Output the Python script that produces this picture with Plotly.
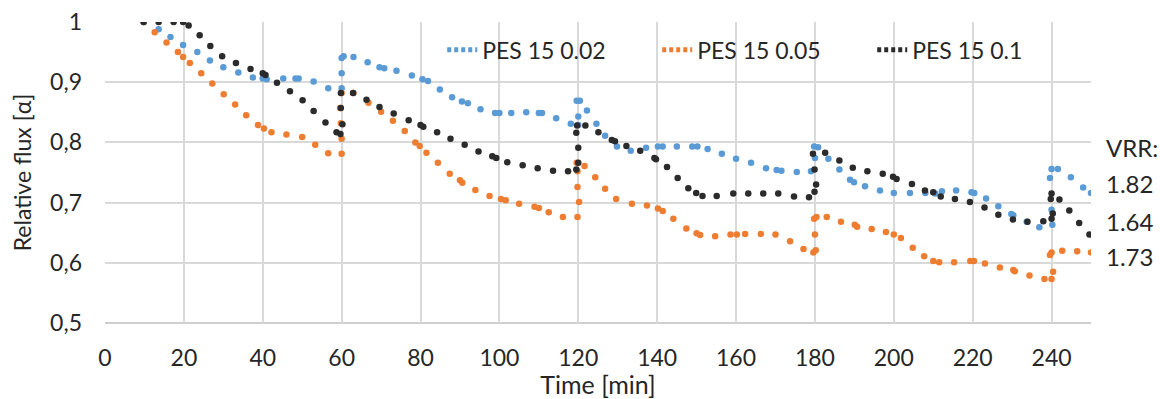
import plotly.graph_objects as go

# ---- data (time in min, relative flux) ----
t_002 = [9.8, 13.6, 16.6, 19.8, 23.4, 26.6, 30.0, 33.8, 37.5, 40.0, 41.0, 45.2, 48.3, 49.1, 52.9, 56.6,
         60.0, 60.0, 60.0, 60.5, 63.0, 66.6, 69.6, 70.8, 73.9, 77.8, 80.5, 81.9, 84.9, 88.0, 90.5, 92.0,
         95.2, 98.9, 100.0, 103.0, 106.8, 110.0, 110.8, 114.4, 118.1, 120.0, 120.0, 119.6, 120.4, 122.2,
         124.6, 126.8, 129.8, 133.3, 137.2, 140.2, 141.4, 145.0, 148.9, 150.2, 152.8, 156.4, 160.0, 163.8,
         167.6, 170.3, 171.5, 175.4, 179.0, 180.0, 179.8, 180.8, 183.4, 186.2, 188.9, 189.9, 192.7, 196.5,
         200.0, 204.1, 208.0, 210.5, 212.2, 215.8, 219.7, 220.4, 223.4, 226.5, 229.8, 230.3, 233.7, 236.9,
         240.2, 240.0, 239.6, 240.0, 241.6, 244.9, 248.0, 250.0]
f_002 = [1.0, 0.988, 0.975, 0.962, 0.950, 0.936, 0.925, 0.916, 0.908, 0.906, 0.905, 0.906, 0.906, 0.906, 0.901, 0.890,
         0.890, 0.915, 0.940, 0.943, 0.942, 0.933, 0.925, 0.923, 0.919, 0.911, 0.905, 0.902, 0.888, 0.875, 0.868, 0.865,
         0.855, 0.849, 0.849, 0.849, 0.850, 0.849, 0.849, 0.840, 0.831, 0.829, 0.843, 0.869, 0.869, 0.853,
         0.831, 0.811, 0.793, 0.786, 0.791, 0.793, 0.793, 0.793, 0.793, 0.793, 0.789, 0.781, 0.773, 0.766,
         0.757, 0.754, 0.753, 0.751, 0.752, 0.774, 0.793, 0.792, 0.773, 0.755, 0.738, 0.734, 0.727, 0.720,
         0.716, 0.716, 0.716, 0.715, 0.719, 0.720, 0.717, 0.716, 0.707, 0.694, 0.681, 0.679, 0.668, 0.659,
         0.663, 0.688, 0.741, 0.756, 0.756, 0.742, 0.725, 0.716]

t_005 = [9.8, 12.6, 15.6, 18.5, 19.8, 21.5, 24.4, 27.2, 30.1, 33.0, 35.8, 38.8, 40.3, 42.2, 46.0, 50.0, 53.3, 56.6,
         60.0, 60.0, 59.8, 59.6, 60.0, 63.0, 66.8, 70.0, 73.0, 76.0, 78.7, 79.8, 81.5, 84.4, 87.4, 90.0, 90.6,
         93.9, 97.5, 100.4, 101.6, 105.0, 108.9, 110.0, 112.5, 116.1, 119.8, 120.2, 119.8, 119.8, 119.6, 121.6,
         124.3, 126.8, 129.6, 133.6, 137.4, 140.2, 141.4, 144.1, 147.4, 150.0, 150.9, 154.7, 158.6, 160.2,
         162.3, 166.3, 170.0, 173.7, 177.1, 179.6, 180.2, 180.0, 179.8, 180.4, 183.0, 186.6, 190.1, 190.7,
         194.4, 198.0, 200.0, 201.8, 204.8, 207.7, 210.0, 211.5, 215.3, 219.4, 220.3, 223.1, 226.9, 230.3,
         230.7, 234.4, 238.2, 240.0, 240.4, 239.6, 240.0, 242.7, 246.5, 250.0]
f_005 = [1.0, 0.983, 0.966, 0.950, 0.942, 0.932, 0.915, 0.898, 0.880, 0.863, 0.845, 0.829, 0.823, 0.817, 0.813, 0.809, 0.796, 0.782,
         0.781, 0.806, 0.832, 0.857, 0.882, 0.882, 0.866, 0.851, 0.836, 0.819, 0.800, 0.794, 0.783, 0.766, 0.748, 0.737, 0.733,
         0.721, 0.711, 0.706, 0.704, 0.698, 0.693, 0.691, 0.684, 0.676, 0.676, 0.701, 0.726, 0.752, 0.766, 0.761,
         0.742, 0.723, 0.706, 0.698, 0.695, 0.690, 0.686, 0.673, 0.657, 0.649, 0.646, 0.644, 0.647, 0.647,
         0.648, 0.648, 0.647, 0.636, 0.623, 0.617, 0.621, 0.647, 0.673, 0.676, 0.676, 0.668, 0.663, 0.660,
         0.656, 0.651, 0.647, 0.641, 0.625, 0.611, 0.603, 0.601, 0.601, 0.603, 0.603, 0.599, 0.592, 0.588,
         0.586, 0.579, 0.573, 0.573, 0.585, 0.613, 0.617, 0.620, 0.619, 0.617]

t_01 = [9.8, 13.6, 17.4, 19.8, 21.2, 24.0, 26.7, 29.7, 33.2, 36.9, 40.0, 40.7, 43.6, 46.9, 50.1, 52.9, 55.9, 58.7,
        59.7, 60.2, 59.8, 59.8, 62.9, 66.3, 69.6, 73.2, 77.0, 80.0, 80.7, 84.2, 87.6, 91.2, 94.7, 98.2, 99.2,
        102.0, 105.9, 109.7, 113.6, 117.4, 119.5, 120.0, 120.0, 119.5, 119.7, 121.8, 125.1, 128.5, 129.3,
        132.2, 135.7, 139.3, 139.7, 142.5, 145.2, 147.9, 149.9, 151.5, 155.1, 159.3, 163.1, 166.9, 170.7,
        174.7, 178.5, 179.9, 180.3, 179.9, 179.5, 182.6, 186.2, 189.6, 193.3, 197.2, 199.8, 200.7, 204.6,
        207.9, 210.0, 211.9, 215.5, 219.3, 223.0, 226.5, 230.2, 233.9, 237.9, 240.0, 240.3, 239.8, 240.0,
        242.0, 244.5, 247.0, 249.6]
f_01 = [1.0, 1.0, 1.0, 1.0, 0.994, 0.978, 0.960, 0.943, 0.932, 0.922, 0.915, 0.912, 0.899, 0.885, 0.870, 0.852, 0.833, 0.817,
        0.814, 0.830, 0.857, 0.882, 0.882, 0.871, 0.859, 0.848, 0.837, 0.829, 0.826, 0.817, 0.806, 0.796, 0.785, 0.777, 0.774,
        0.767, 0.762, 0.757, 0.753, 0.752, 0.755, 0.766, 0.791, 0.816, 0.828, 0.828, 0.817, 0.804, 0.802,
        0.794, 0.786, 0.774, 0.772, 0.759, 0.741, 0.724, 0.716, 0.711, 0.711, 0.715, 0.715, 0.715, 0.715,
        0.710, 0.709, 0.718, 0.730, 0.755, 0.781, 0.783, 0.770, 0.758, 0.752, 0.748, 0.743, 0.739, 0.731,
        0.720, 0.717, 0.710, 0.706, 0.701, 0.692, 0.680, 0.672, 0.668, 0.669, 0.673, 0.682, 0.706, 0.715,
        0.705, 0.687, 0.666, 0.647]

series_names = ["PES 15 0.02", "PES 15 0.05", "PES 15 0.1"]
series_colors = ["#5B9BD5", "#ED7D31", "#2B2B2B"]
series_t = [t_002, t_005, t_01]
series_f = [f_002, f_005, f_01]

x_ticks = [0, 20, 40, 60, 80, 100, 120, 140, 160, 180, 200, 220, 240]
y_ticks = [0.5, 0.6, 0.7, 0.8, 0.9, 1.0]
y_ticktext = ["0,5", "0,6", "0,7", "0,8", "0,9", "1"]

vrr_labels = ["VRR:", "1.82", "1.64", "1.73"]
vrr_ypos = [0.582, 0.463, 0.337, 0.221]

FONT = "Lato"
TXT = "#262626"

fig = go.Figure()
for name, col, tt, ff in zip(series_names, series_colors, series_t, series_f):
    fig.add_trace(go.Scatter(x=tt, y=ff, mode="markers", name=name, legendgroup=name,
                             showlegend=False,
                             marker=dict(size=6.5, color=col, line=dict(width=0))))
for name, col in zip(series_names, series_colors):
    fig.add_trace(go.Scatter(x=[None], y=[None], mode="lines", name=name, legendgroup=name,
                             line=dict(color=col, width=5, dash="4px,3px")))

for txt, yp in zip(vrr_labels, vrr_ypos):
    fig.add_annotation(text=txt, xref="paper", yref="paper", x=1.0132, y=yp,
                       xanchor="left", yanchor="middle", showarrow=False,
                       font=dict(family=FONT, size=24, color=TXT))

fig.update_layout(
    width=1160, height=399,
    margin=dict(l=104.5, r=69, t=22, b=76, autoexpand=False),
    paper_bgcolor="white", plot_bgcolor="white",
    font=dict(family=FONT, size=23, color=TXT),
    legend=dict(orientation="h", x=0.342, y=0.908, xanchor="left", yanchor="middle",
                bgcolor="rgba(0,0,0,0)", font=dict(family=FONT, size=23, color=TXT),
                entrywidth=170, entrywidthmode="pixels", tracegroupgap=0),
    xaxis=dict(range=[0, 250], tickvals=x_ticks, showgrid=True, gridcolor="#D9D9D9", gridwidth=1.5,
               zeroline=False, showline=False, ticks="", ticklabelstandoff=19, automargin=False,
               title=dict(text="Time [min]", standoff=12, font=dict(family=FONT, size=25, color=TXT)),
               tickfont=dict(family=FONT, size=23, color=TXT)),
    yaxis=dict(range=[0.5, 1.0], tickvals=y_ticks, ticktext=y_ticktext, showgrid=True,
               gridcolor="#D9D9D9", gridwidth=1.5, zeroline=False, showline=False, ticks="",
               ticklabelstandoff=22, automargin=False,
               title=dict(text="Relative flux [α]", standoff=12, font=dict(family=FONT, size=23, color=TXT)),
               tickfont=dict(family=FONT, size=23, color=TXT)),
    showlegend=True,
)
fig.add_shape(type="line", xref="paper", yref="paper", x0=0, x1=1, y0=0, y1=0,
              line=dict(color="#BFBFBF", width=1.5), layer="below")

fig.write_html("out.html")
